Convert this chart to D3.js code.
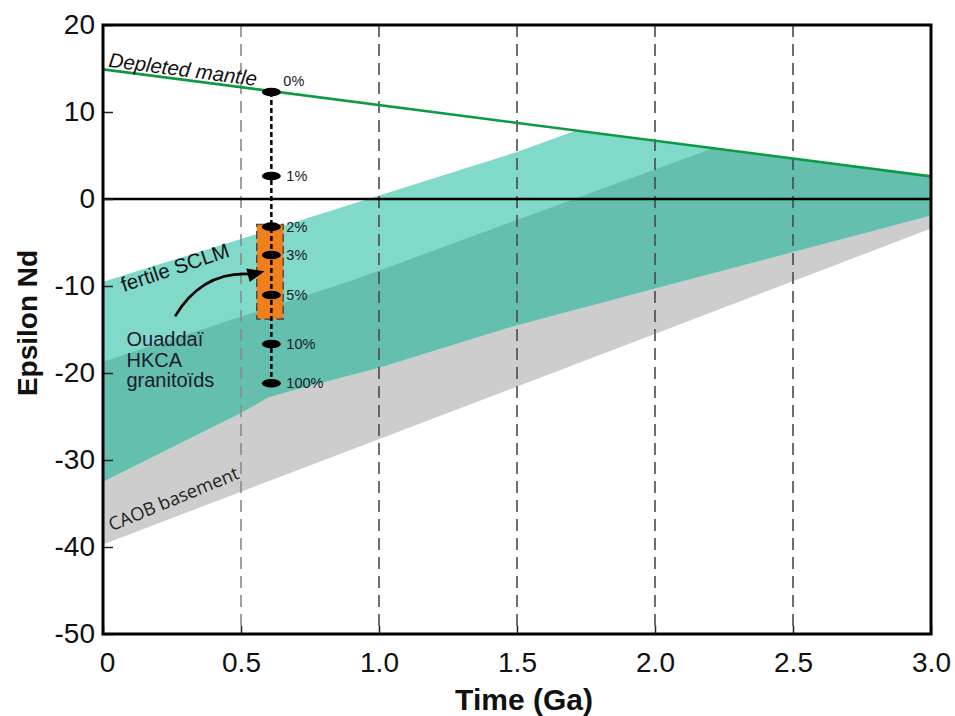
<!DOCTYPE html>
<html>
<head>
<meta charset="utf-8">
<script src="https://cdn.jsdelivr.net/npm/d3@7"></script>
<style>
  html, body { margin: 0; padding: 0; background: #fff; }
  svg { display: block; }
</style>
</head>
<body>
<svg id="chart" width="955" height="716"></svg>
<script>
// ---------------- data ----------------
const xTicks = [0, 0.5, 1.0, 1.5, 2.0, 2.5, 3.0];
const xTickLabels = ["0", "0.5", "1.0", "1.5", "2.0", "2.5", "3.0"];
const yTicks = [20, 10, 0, -10, -20, -30, -40, -50];
const yTickLabels = ["20", "10", "0", "-10", "-20", "-30", "-40", "-50"];
const dashedTimes = [0.5, 1.0, 1.5, 2.0, 2.5];

// Depleted mantle evolution line
const dmTime = [0, 3.0];
const dmEps = [14.9, 2.6];

// fertile SCLM (light teal) upper edge
const sclmUpperTime = [0, 0.5, 1.5, 1.714, 3.0];
const sclmUpperEps = [-9.5, -4.6, 5.4, 7.87, 2.6];

// darker teal upper edge
const innerUpperTime = [0, 0.9, 1.44, 2.21, 3.0];
const innerUpperEps = [-18.7, -9.4, -3.1, 5.84, 2.6];

// lower edge of teal field (= top of CAOB basement field)
const tealLowerTime = [0, 0.5, 0.6, 0.7, 1.0, 1.5, 2.0, 2.5, 3.0];
const tealLowerEps = [-32.5, -24.6, -22.8, -21.9, -19.4, -14.5, -10.3, -6.1, -1.9];

// lower edge of CAOB basement field
const caobLowerTime = [0, 3.0];
const caobLowerEps = [-39.7, -3.4];

// mixing curve
const mixTime = 0.61;
const mixLabels = ["0%", "1%", "2%", "3%", "5%", "10%", "100%"];
const mixEps = [12.3, 2.64, -3.18, -6.44, -11.03, -16.67, -21.18];

// Ouaddaï HKCA granitoids box
const boxTime = [0.557, 0.653];
const boxEps = [-2.9, -13.8];

// arrow (start, control, end) in data units
const arrowTime = [0.261, 0.36, 0.585];
const arrowEps = [-13.5, -8.2, -8.3];

// ---------------- layout ----------------
(function () {
const svg = d3.select("#chart");
const mLeft = 103, mRight = 931, mTop = 25, mBottom = 634;
const x = d3.scaleLinear().domain([0, 3]).range([mLeft, mRight]);
const y = d3.scaleLinear().domain([-50, 20]).range([mBottom, mTop]);

const FONT = "Arial, 'Liberation Sans', Helvetica, sans-serif";

const pts = (ts, es) => ts.map((t, i) => [x(t), y(es[i])]);
const line = d3.line();

function band(upperT, upperE, lowerT, lowerE) {
  const up = pts(upperT, upperE);
  const lo = pts(lowerT, lowerE).reverse();
  return line(up.concat(lo)) + "Z";
}

svg.append("clipPath").attr("id", "clip")
  .append("rect").attr("x", mLeft).attr("y", mTop).attr("width", mRight - mLeft).attr("height", mBottom - mTop);
const plot = svg.append("g").attr("clip-path", "url(#clip)");

// bands
plot.append("path").attr("d", band(tealLowerTime, tealLowerEps, caobLowerTime, caobLowerEps))
  .attr("fill", "#cdcdcd");
plot.append("path").attr("d", band(sclmUpperTime, sclmUpperEps, tealLowerTime, tealLowerEps))
  .attr("fill", "#80d9c9");
plot.append("path").attr("d", band(innerUpperTime, innerUpperEps, tealLowerTime, tealLowerEps))
  .attr("fill", "#64bfae");

// vertical dashed lines
plot.selectAll("line.vd").data(dashedTimes).enter().append("line")
  .attr("class", "vd")
  .attr("x1", d => x(d)).attr("x2", d => x(d))
  .attr("y1", mTop).attr("y2", mBottom)
  .attr("stroke", d => d === 0.5 ? "#8a8a8a" : "#4a4a4a")
  .attr("stroke-width", 1.6)
  .attr("stroke-dasharray", "12,7");

// zero line
plot.append("line")
  .attr("x1", x(0)).attr("x2", x(3)).attr("y1", y(0)).attr("y2", y(0))
  .attr("stroke", "#000").attr("stroke-width", 2.5);

// depleted mantle line
plot.append("path").attr("d", line(pts(dmTime, dmEps)))
  .attr("fill", "none").attr("stroke", "#0c9a44").attr("stroke-width", 2.6);

// axes
const yAxis = d3.axisLeft(y).tickValues(yTicks)
  .tickFormat((d, i) => yTickLabels[i])
  .tickSizeInner(-10).tickSizeOuter(0).tickPadding(8);
const gy = svg.append("g").attr("transform", `translate(${mLeft},0)`).call(yAxis);
gy.select(".domain").remove();
gy.selectAll(".tick line").attr("stroke", "#222").attr("stroke-width", 1.5);
gy.selectAll(".tick text").attr("font-family", FONT).attr("font-size", 28).attr("fill", "#111");

const xAxis = d3.axisBottom(x).tickValues(xTicks)
  .tickFormat((d, i) => xTickLabels[i])
  .tickSizeInner(-8).tickSizeOuter(0).tickPadding(18);
const gx = svg.append("g").attr("transform", `translate(0,${mBottom})`).call(xAxis);
gx.select(".domain").remove();
gx.selectAll(".tick line").attr("stroke", "#222").attr("stroke-width", 1.5);
gx.selectAll(".tick text").attr("font-family", FONT).attr("font-size", 28).attr("fill", "#111")
  .attr("dx", (d, i) => i === 0 ? 4 : 0);

// frame
svg.append("rect").attr("x", mLeft).attr("y", mTop).attr("width", mRight - mLeft).attr("height", mBottom - mTop)
  .attr("fill", "none").attr("stroke", "#000").attr("stroke-width", 3);

// orange box
svg.append("rect")
  .attr("x", x(boxTime[0])).attr("y", y(boxEps[0]))
  .attr("width", x(boxTime[1]) - x(boxTime[0]))
  .attr("height", y(boxEps[1]) - y(boxEps[0]))
  .attr("fill", "#f07f1e").attr("stroke", "#3a3a3a").attr("stroke-width", 1.2)
  .attr("stroke-dasharray", "8,4");

// mixing line
svg.append("line")
  .attr("x1", x(mixTime)).attr("x2", x(mixTime))
  .attr("y1", y(mixEps[0])).attr("y2", y(mixEps[mixEps.length - 1]))
  .attr("stroke", "#000").attr("stroke-width", 2.5).attr("stroke-dasharray", "5,3");

svg.selectAll("ellipse.mk").data(mixEps).enter().append("ellipse")
  .attr("class", "mk")
  .attr("cx", x(mixTime)).attr("cy", d => y(d))
  .attr("rx", 9.5).attr("ry", 4.3).attr("fill", "#000");

svg.selectAll("text.mk").data(mixLabels).enter().append("text")
  .attr("class", "mk")
  .attr("x", (d, i) => x(mixTime) + (i === 0 ? 12 : 15))
  .attr("y", (d, i) => y(mixEps[i]) + (i === 0 ? -6 : 5))
  .attr("font-family", FONT).attr("font-size", 14.5).attr("fill", "#1a1a2a")
  .text(d => d);

// arrow
const a = pts(arrowTime, arrowEps);
const arrowPath = d3.path();
arrowPath.moveTo(a[0][0], a[0][1]);
arrowPath.quadraticCurveTo(a[1][0], a[1][1], a[2][0] - 12, a[2][1] + 3);
svg.append("path").attr("d", arrowPath.toString())
  .attr("fill", "none").attr("stroke", "#000").attr("stroke-width", 2.6);
{
  const tip = a[2];
  const ang = Math.atan2(3, -12);
  const L = 17, W = 7;
  const bx = tip[0] + L * Math.cos(ang), by = tip[1] + L * Math.sin(ang);
  const nx = -Math.sin(ang) * W, ny = Math.cos(ang) * W;
  svg.append("path")
    .attr("d", `M${tip[0]},${tip[1]}L${bx + nx},${by + ny}L${bx - nx},${by - ny}Z`)
    .attr("fill", "#000");
}

// labels
const dmAngle = Math.atan2(y(dmEps[1]) - y(dmEps[0]), x(dmTime[1]) - x(dmTime[0])) * 180 / Math.PI;
svg.append("text")
  .attr("transform", `translate(${x(0.018)},${y(15.2)}) rotate(${dmAngle})`)
  .attr("font-family", FONT).attr("font-size", 20.5).attr("font-style", "italic")
  .attr("fill", "#111").text("Depleted mantle");

svg.append("text")
  .attr("transform", `translate(${x(0.075)},${y(-10.7)}) rotate(-18.5)`)
  .attr("font-family", FONT).attr("font-size", 20.5)
  .attr("fill", "#111").text("fertile SCLM");

const ouad = svg.append("text")
  .attr("font-family", FONT).attr("font-size", 20).attr("fill", "#1b1b30");
["Ouaddaï", "HKCA", "granitoïds"].forEach((s, i) => {
  ouad.append("tspan").attr("x", x(0.085)).attr("y", y(-16.9) + i * 20.5).text(s);
});

svg.append("text")
  .attr("transform", `translate(${x(0.032)},${y(-38.2)}) rotate(-22.5)`)
  .attr("font-family", "'Open Sans', 'Noto Sans', sans-serif").attr("font-size", 18.3)
  .attr("fill", "#222").text("CAOB basement");

// axis titles
svg.append("text")
  .attr("x", (mLeft + mRight) / 2 + 7).attr("y", 710)
  .attr("text-anchor", "middle")
  .attr("font-family", FONT).attr("font-size", 30).attr("font-weight", "bold")
  .attr("fill", "#111").text("Time (Ga)");

svg.append("text")
  .attr("transform", `translate(37,323) rotate(-90)`)
  .attr("text-anchor", "middle")
  .attr("font-family", FONT).attr("font-size", 28).attr("font-weight", "bold")
  .attr("fill", "#111").text("Epsilon Nd");
})();
</script>
</body>
</html>
